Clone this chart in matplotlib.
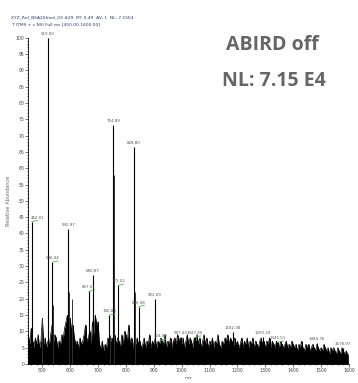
import matplotlib
matplotlib.use("Agg")
import matplotlib.pyplot as plt
from matplotlib.ticker import MultipleLocator

# labelled peaks: m/z, relative abundance, green mark
peak_mz = [462.01, 519.00, 536.04, 592.97, 667.01, 680.87, 740.89, 754.89, 772.02,
           828.80, 846.08, 902.69, 924.00, 997.43, 1047.40, 1182.38, 1290.29,
           1345.51, 1484.76, 1578.97]
peak_int = [43.6, 100, 31.2, 41.4, 22.3, 27.2, 15.0, 73.2, 24.1,
            66.6, 17.6, 20.0, 7.3, 8.2, 8.2, 9.8, 8.2, 6.7, 6.4, 4.9]
peak_green = [1, 0, 1, 0, 1, 0, 1, 0, 1, 0, 1, 0, 1, 0, 1, 0, 0, 1, 0, 0]

# isotope / shoulder lines next to the labelled peaks
iso_mz = [463.0, 464.0, 520.0, 521.0, 522.0, 537.0, 538.0, 594.0, 595.0, 608.0,
          668.0, 682.0, 742.0, 755.9, 757.0, 773.0, 829.8, 831.0, 847.0, 904.0, 500.0]
iso_int = [25, 12, 50, 37, 17, 18, 10, 22, 12, 20,
           12, 15, 9, 58, 30, 14, 49, 22, 10, 10, 14]

# baseline noise, one value every 5 m/z from 450
noise_start = 450
noise_step = 5
noise_int = [
    9, 6, 11, 7, 5, 8, 6, 9, 5, 7,
    14, 6, 8, 5, 7, 6, 9, 12, 7, 9,
    8, 5, 7, 6, 9, 8, 11, 13, 15, 12,
    14, 10, 12, 8, 6, 7, 5, 8, 6, 7,
    9, 12, 7, 8, 10, 6, 13, 9, 15, 12,
    13, 6, 5, 7, 4, 6, 5, 8, 6, 7,
    8, 5, 9, 6, 8, 7, 5, 9, 6, 10,
    9, 7, 12, 6, 8, 5, 7, 6, 8, 6,
    7, 5, 6, 8, 5, 7, 6, 9, 5, 7,
    6, 8, 5, 7, 6, 8, 7, 6, 9, 5,
    7, 6, 8, 5, 7, 8, 6, 9, 7, 8,
    6, 8, 5, 7, 9, 6, 8, 7, 5, 8,
    7, 9, 6, 8, 5, 7, 9, 6, 8, 5,
    7, 6, 8, 5, 7, 6, 9, 6, 5, 7,
    6, 8, 7, 9, 6, 8, 7, 5, 8, 6,
    7, 5, 6, 8, 5, 7, 6, 8, 5, 7,
    6, 8, 5, 7, 6, 5, 7, 8, 6, 7,
    5, 7, 6, 8, 5, 7, 6, 5, 7, 6,
    5, 7, 6, 5, 6, 7, 5, 6, 5, 7,
    6, 5, 6, 4, 6, 5, 7, 5, 4, 6,
    5, 6, 4, 5, 6, 5, 4, 6, 5, 4,
    5, 4, 6, 5, 4, 5, 3, 5, 4, 5,
    4, 3, 5, 4, 3, 5, 4, 3, 4, 3,
]
noise_mz = [noise_start + noise_step * i for i in range(len(noise_int))]

fig = plt.figure(figsize=(3.58, 3.83), dpi=100)
ax = fig.add_axes([0.0793, 0.0496, 0.8955, 0.852])

# noise drawn as a filled jagged profile with thin spikes
ax.fill_between(noise_mz, 0, noise_int, color="black", lw=0)
ax.plot(noise_mz, noise_int, color="black", lw=0.5)
ax.vlines(noise_mz, 0, noise_int, color="black", lw=0.6)
ax.vlines(iso_mz, 0, iso_int, color="#333333", lw=0.7)
ax.vlines(peak_mz, 0, peak_int, color="black", lw=0.8)

for mz, h, g in zip(peak_mz, peak_int, peak_green):
    if mz < 470:
        ax.text(457.5, h + 0.6, "%.2f" % mz, ha="left", va="bottom",
                fontsize=2.9, color="#555555", clip_on=False)
    else:
        ax.text(mz, h + 0.6, "%.2f" % mz, ha="center", va="bottom",
                fontsize=2.9, color="#555555", clip_on=False)
    if g:
        ax.plot([mz, mz + 20], [h, h + 0.4], color="#33cc33", lw=0.6)

ax.set_xlim(450, 1600)
ax.set_ylim(0, 100)
for s in ["top", "right"]:
    ax.spines[s].set_visible(False)
for s in ["left", "bottom"]:
    ax.spines[s].set_linewidth(0.6)

ax.xaxis.set_major_locator(MultipleLocator(100))
ax.xaxis.set_minor_locator(MultipleLocator(20))
ax.yaxis.set_major_locator(MultipleLocator(5))
ax.yaxis.set_minor_locator(MultipleLocator(1))
ax.tick_params(which="major", length=2, width=0.5, labelsize=3.3, pad=1, colors="#444444")
ax.tick_params(which="minor", length=1, width=0.4)
ax.set_xticks([500 + 100 * i for i in range(12)])

ax.set_xlabel("m/z", fontsize=3.0, color="#444444", labelpad=2)
ax.set_ylabel("Relative Abundance", fontsize=3.6, color="#666666", labelpad=3)

fig.text(0.031, 0.955, "XYZ_Ref_BSA20fmol_03 #29  RT: 0.49  AV: 1  NL: 7.15E4",
         fontsize=3.2, color="#2b3a7a", family="Liberation Sans Narrow", va="center")
fig.text(0.031, 0.936, "T: ITMS + c NSI Full ms [450.00-1600.00]",
         fontsize=3.2, color="#2b3a7a", family="Liberation Sans Narrow", va="center")

fig.text(0.762, 0.882, "ABIRD off", fontsize=14, fontweight="bold", color="#666666",
         family="Open Sans", ha="center", va="center")
fig.text(0.765, 0.788, "NL: 7.15 E4", fontsize=14, fontweight="bold", color="#666666",
         family="Open Sans", ha="center", va="center")

fig.savefig("out.png", dpi=100)
